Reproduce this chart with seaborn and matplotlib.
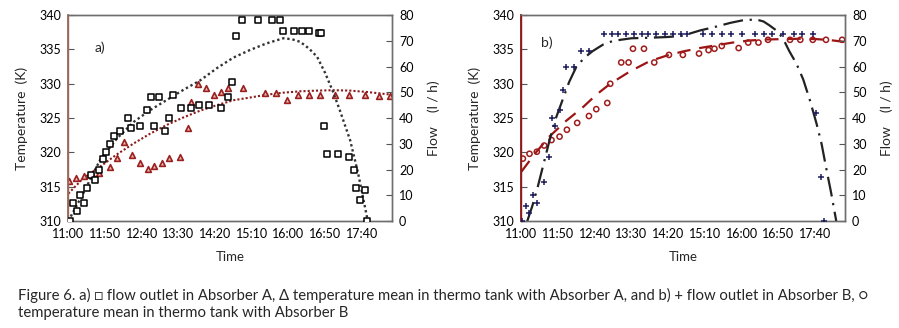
import numpy as np
import pandas as pd
import matplotlib
matplotlib.use("Agg")
import matplotlib.pyplot as plt
import seaborn as sns

# ---- data (minutes after 11:00) ----
# a) flow outlet in Absorber A (l/h, right axis)
a_flow_t = [2, 7, 12, 16, 22, 26, 31, 37, 42, 47, 52, 57, 62, 71, 81, 86, 98, 107, 113, 117,
            123, 132, 137, 142, 153, 167, 178, 192, 208, 218, 223, 228, 237, 258, 277, 288, 293,
            308, 318, 328, 341, 344, 348, 353, 368, 383, 389, 392, 398, 404, 407]
a_flow = [0, 7, 4, 10, 7, 13, 18, 16, 20, 24, 27, 30, 33, 35, 40, 36, 37, 43, 48, 37,
          48, 35, 40, 49, 44, 44, 45, 45, 44, 48, 54, 72, 78, 78, 78, 78, 74,
          74, 74, 74, 73, 73, 37, 26, 26, 25, 20, 13, 8, 12, 0]
# a) temperature mean in thermo tank with Absorber A (K, left axis)
a_temp_t = [1, 11, 22, 32, 42, 57, 67, 76, 87, 98, 108, 117, 127, 137, 152, 163, 167, 177,
            187, 198, 208, 218, 238, 268, 283, 298, 313, 328, 343, 363, 383, 404, 423, 439]
a_temp = [315.9, 316.3, 316.6, 316.8, 317.0, 317.9, 319.2, 321.5, 319.6, 318.4, 317.6, 318.0,
          318.4, 319.2, 319.3, 323.6, 327.3, 329.9, 329.4, 328.4, 328.8, 329.4, 329.4, 328.6,
          328.7, 327.7, 328.3, 328.3, 328.3, 328.3, 328.3, 328.3, 328.2, 328.2]
# trend lines
a_flow_trend_t = [0, 20, 43, 66, 89, 111, 134, 157, 180, 203, 225, 248, 270, 293, 305, 316,
                  328, 339, 350, 361, 370, 384, 395, 407, 409]
a_flow_trend = [0, 10.6, 23.6, 32, 38.5, 43, 47, 51, 54.7, 59.5, 63.5, 66.5, 69, 71, 70.6, 69.6,
                67, 63.8, 57.5, 50, 43, 31.4, 18.4, 1.5, 0]
a_temp_trend_t = [0, 20, 43, 66, 89, 111, 134, 157, 180, 203, 225, 248, 270, 293, 316, 339,
                  361, 384, 407, 441]
a_temp_trend = [314.0, 316.2, 317.9, 319.7, 321.3, 322.7, 324.0, 325.1, 326.1, 326.9, 327.6,
                328.0, 328.4, 328.7, 328.9, 329.0, 329.06, 329.0, 328.8, 328.4]

# b) flow outlet in Absorber B
b_flow_t = [1, 6, 10, 16, 21, 31, 37, 42, 46, 52, 57, 61, 71, 81, 92,
            112, 123, 132, 143, 153, 164, 173, 184, 196, 206, 217, 226, 247, 260, 273, 286,
            301, 318, 331, 342, 357, 372, 383, 397, 402, 408, 412]
b_flow = [0, 6, 3, 10, 7, 15, 25, 40, 37, 43, 51, 60, 60, 66, 66,
          72.5, 72.5, 72.5, 72.5, 72.5, 72.5, 72.5, 72.5, 72.5, 72.5, 72.5, 72.5, 72.5, 72.5,
          72.5, 72.5, 72.5, 72.5, 72.5, 72.5, 72.5, 72.5, 72.5, 72.5, 42, 17, 0]
# b) temperature mean in thermo tank with Absorber B
b_temp_t = [2, 11, 21, 31, 41, 52, 62, 76, 92, 102, 117, 121, 136, 146, 152, 167, 181, 201,
            220, 242, 255, 263, 273, 296, 309, 323, 336, 366, 380, 397, 415, 437]
b_temp = [319.1, 319.8, 320.1, 321.0, 321.8, 322.3, 323.3, 324.3, 325.3, 326.3, 327.2, 330.0,
          333.1, 333.1, 335.1, 335.1, 333.1, 334.2, 334.2, 334.4, 334.9, 335.1, 335.5, 335.2,
          336.0, 336.0, 336.4, 336.4, 336.4, 336.4, 336.4, 336.4]
b_flow_trend_t = [8, 15, 22, 30, 38, 47, 56, 65, 75, 86, 97, 111, 125, 150, 175, 200, 220, 243,
                  265, 285, 302, 320, 330, 338, 350, 358, 365, 375, 384, 393, 402, 409, 415,
                  422, 429]
b_flow_trend = [0, 6, 13, 22, 31, 40, 47, 54, 60, 63.5, 66, 68.5, 70, 71, 71.2, 71.5, 72, 74,
                75.5, 77, 78, 78.3, 77.5, 76, 73.5, 70, 66, 61, 55, 47, 38, 30, 21, 11, 0]
b_temp_trend_t = [0, 19, 38, 61, 84, 102, 121, 148, 175, 198, 220, 243, 265, 288, 311, 334,
                  356, 379, 402, 421, 440]
b_temp_trend = [317.2, 319.9, 322.3, 324.6, 326.6, 328.4, 330.0, 331.8, 333.3, 334.1, 334.7,
                335.2, 335.6, 336.0, 336.3, 336.45, 336.5, 336.55, 336.5, 336.35, 336.1]

tick_pos = [0, 50, 100, 150, 200, 250, 300, 350, 400]
tick_lab = ["11:00", "11:50", "12:40", "13:30", "14:20", "15:10", "16:00", "16:50", "17:40"]

sns.set_theme(style="white")
plt.rcParams["font.family"] = ["Lato", "DejaVu Sans"]

fig = plt.figure(figsize=(8.99, 3.28), dpi=100)
ax_a = fig.add_axes([0.076, 0.326, 0.360, 0.628])
ax_b = fig.add_axes([0.580, 0.326, 0.360, 0.628])


def setup(ax, left_color):
    axr = ax.twinx()
    ax.set_xlim(0, 441)
    ax.set_ylim(310, 340)
    axr.set_ylim(0, 80)
    ax.set_yticks(np.arange(310, 341, 5))
    axr.set_yticks(np.arange(0, 81, 10))
    ax.set_xticks(tick_pos)
    ax.set_xticklabels(tick_lab)
    for a in (ax, axr):
        a.tick_params(direction="in", length=4, width=0.8, colors="#555555",
                      labelcolor="black", labelsize=9, pad=5)
        for s in a.spines.values():
            s.set_color("#6e6e6e")
            s.set_linewidth(1.0)
    axr.spines["left"].set_color(left_color)
    axr.spines["left"].set_linewidth(1.3)
    ax.spines["left"].set_color(left_color)
    ax.set_xlabel("Time", fontsize=9.5, labelpad=8)
    ax.set_ylabel("Temperature  (K)", fontsize=10, labelpad=8)
    axr.set_ylabel("Flow    (l / h)", fontsize=10, labelpad=10)
    ax.grid(False)
    axr.grid(False)
    return axr


axr_a = setup(ax_a, "#9a6a58")
axr_b = setup(ax_b, "#8b1a1a")

# ---- panel a ----
sns.lineplot(x=a_temp_trend_t, y=a_temp_trend, ax=ax_a, sort=False, color="#8b1a1a",
             lw=1.5, linestyle=(0, (1, 1)))
sns.scatterplot(x=a_temp_t, y=a_temp, ax=ax_a, marker="^", s=17, facecolor="#e6b8ae",
                edgecolor="#9b2020", linewidth=1.2, zorder=4)
sns.lineplot(x=a_flow_trend_t, y=a_flow_trend, ax=axr_a, sort=False, color="#333333",
             lw=1.7, linestyle=(0, (1, 1.2)))
sns.scatterplot(x=a_flow_t, y=a_flow, ax=axr_a, marker="s", s=13, facecolor="white",
                edgecolor="black", linewidth=1.1, zorder=4)
ax_a.text(43, 335.3, "a)", fontsize=10, ha="center", va="center")

# ---- panel b ----
sns.lineplot(x=b_temp_trend_t, y=b_temp_trend, ax=ax_b, sort=False, color="#9b1515",
             lw=1.6, linestyle=(0, (6, 4)))
sns.scatterplot(x=b_temp_t, y=b_temp, ax=ax_b, marker="o", s=14, facecolor="none",
                edgecolor="#a01c1c", linewidth=1.1, zorder=4)
sns.lineplot(x=b_flow_trend_t, y=b_flow_trend, ax=axr_b, sort=False, color="#222222",
             lw=1.6, linestyle=(0, (9, 3, 1, 3)))
sns.scatterplot(x=b_flow_t, y=b_flow, ax=axr_b, marker="+", s=18, color="#1c1c5c",
                linewidth=1.1, zorder=4)
ax_b.text(35, 336.0, "b)", fontsize=10, ha="center", va="center")

for a in (ax_a, ax_b, axr_a, axr_b):
    if a.get_legend() is not None:
        a.get_legend().remove()

fig.text(0.020, 0.100,
         "Figure 6. a) \u25a1 flow outlet in Absorber A, \u0394 temperature mean in thermo tank "
         "with Absorber A, and b) + flow outlet in Absorber B, \u25cb",
         fontsize=10.7, ha="left", va="center")
fig.text(0.020, 0.045, "temperature mean in thermo tank with Absorber B",
         fontsize=10.7, ha="left", va="center")

fig.savefig("out.png", dpi=100)
